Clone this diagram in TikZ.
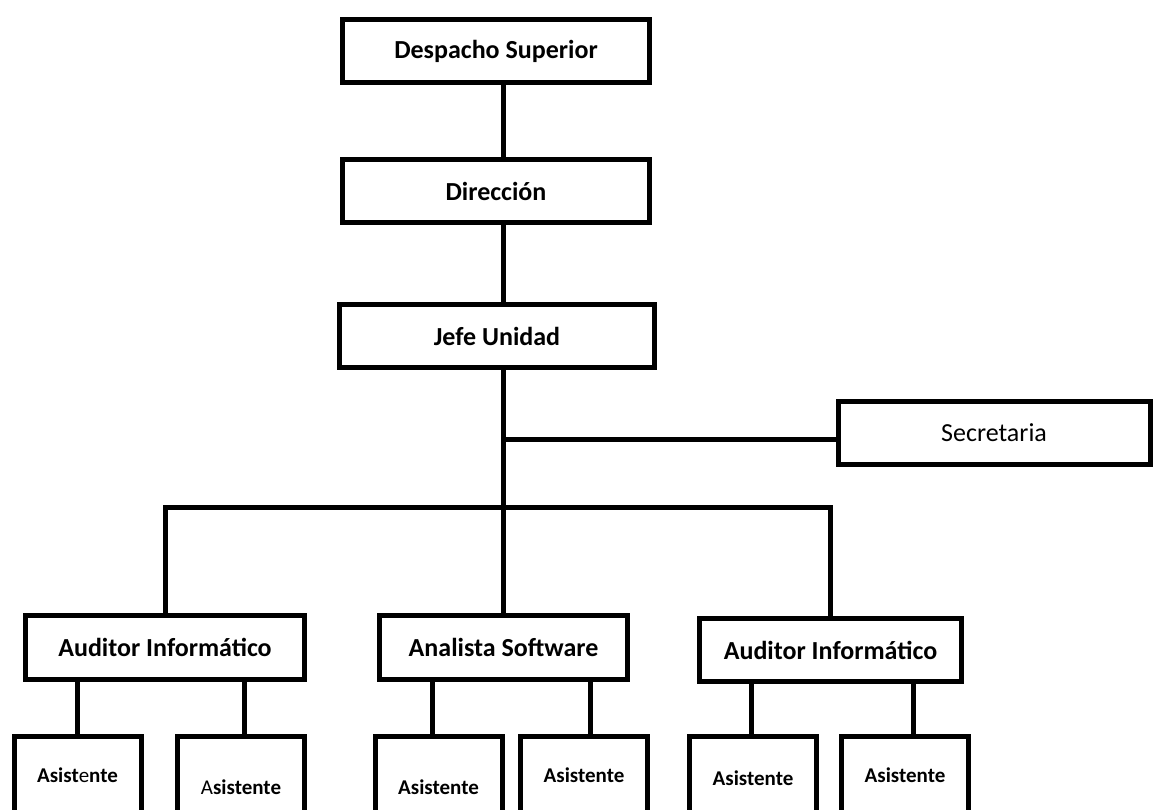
\documentclass[tikz,border=0pt]{standalone}
\usepackage{fontspec}
\setmainfont{Carlito}
\begin{document}
\begin{tikzpicture}[x=1pt,y=-1pt,
        caja/.style={draw,line width=5pt,inner sep=0pt,minimum height=63pt,
            font=\fontsize{26}{30}\selectfont\bfseries},
        asis/.style={caja,minimum width=127pt,font=\fontsize{21}{25}\selectfont\bfseries},
        linea/.style={line width=5pt}]
        \clip (0,0) rectangle (1154,810);
        \fill[white] (0,0) rectangle (1154,810);

        % niveles superiores
        \node (desp) at (496,51) [caja,minimum width=307pt] {Despacho Superior};
        \node (dir) at (496,191) [caja,minimum width=307pt] {Dirección};
        \node (jefe) at (497,336) [caja,minimum width=315pt] {Jefe Unidad};
        \node (secr) at (994,433) [caja,minimum width=312pt,font=\fontsize{26}{30}\selectfont] {Secretaria};

        % jefaturas de area
        \node (aud1) at (165,647.5) [caja,minimum width=279pt,minimum height=64pt] {Auditor Informático};
        \node (ana) at (503.5,647.5) [caja,minimum width=248pt,minimum height=64pt] {Analista Software};
        \node (aud2) at (830.5,650) [caja,minimum width=262pt] {Auditor Informático};

        % asistentes
        \node (as1) at (77.5,775) [asis,minimum height=77pt] {Asist\mdseries e\bfseries nte};
        \node (as2) at (241,787) [asis,minimum height=101pt] {\mdseries A\bfseries sistente};
        \node (as3) at (438.5,787) [asis,minimum height=101pt] {Asistente};
        \node (as4) at (584,775) [asis,minimum height=77pt] {Asistente};
        \node (as5) at (753,778) [asis,minimum height=83pt] {Asistente};
        \node (as6) at (905,775) [asis,minimum height=77pt] {Asistente};

        \coordinate (tronco) at (503,507);
        \coordinate (rama) at (503,439);

        \draw[linea] (desp.south -| tronco) -- (dir.north -| tronco);
        \draw[linea] (dir.south -| tronco) -- (jefe.north -| tronco);
        \draw[linea] (jefe.south -| tronco) -- (ana.north -| tronco);
        \draw[linea] (rama) -- (rama -| secr.west);
        \draw[linea] (aud1.north) -- (aud1.north |- tronco) -- (aud2.north |- tronco) -- (aud2.north);

        \draw[linea] (as1.north) -- (as1.north |- aud1.south);
        \draw[linea] ([xshift=3pt]as2.north) -- ([xshift=3pt]as2.north |- aud1.south);
        \draw[linea] ([xshift=-6.5pt]as3.north) -- ([xshift=-6.5pt]as3.north |- ana.south);
        \draw[linea] ([xshift=6pt]as4.north) -- ([xshift=6pt]as4.north |- ana.south);
        \draw[linea] ([xshift=-2pt]as5.north) -- ([xshift=-2pt]as5.north |- aud2.south);
        \draw[linea] ([xshift=8pt]as6.north) -- ([xshift=8pt]as6.north |- aud2.south);
\end{tikzpicture}
\end{document}
